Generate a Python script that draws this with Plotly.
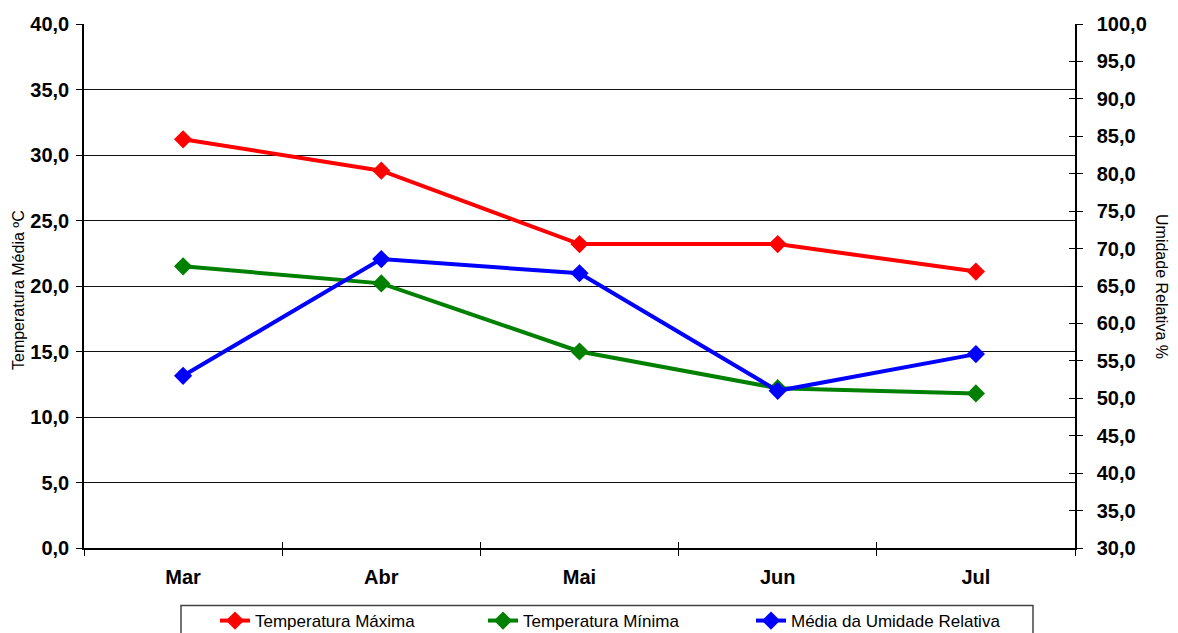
import plotly.graph_objects as go

meses = ["Mar", "Abr", "Mai", "Jun", "Jul"]
temp_max = [31.2, 28.8, 23.2, 23.2, 21.1]
temp_min = [21.5, 20.2, 15.0, 12.2, 11.8]
umidade = [53.0, 68.6, 66.7, 51.0, 55.9]

W, H = 1178, 633
OFF = 8  # page body margin
# plot area in page pixels
PL, PR, PT, PB = 84, 1075, 24, 548
L, T = PL - OFF, PT - OFF
R = W - (PR - OFF)
B = H - (PB - OFF)
pw = PR - PL
ph = PB - PT

def px_x(p):
    return (p - PL) / pw

def px_y(p):
    return (PB - p) / ph

fig = go.Figure()
fig.add_trace(go.Scatter(x=meses, y=temp_max, name="Temperatura Máxima",
                         mode="lines+markers",
                         line=dict(color="#FF0000", width=4),
                         marker=dict(symbol="diamond", size=14, color="#FF0000")))
fig.add_trace(go.Scatter(x=meses, y=temp_min, name="Temperatura Mínima",
                         mode="lines+markers",
                         line=dict(color="#008000", width=4),
                         marker=dict(symbol="diamond", size=14, color="#008000")))
fig.add_trace(go.Scatter(x=meses, y=umidade, name="Média da Umidade Relativa",
                         mode="lines+markers", yaxis="y2",
                         line=dict(color="#0000FF", width=4),
                         marker=dict(symbol="diamond", size=14, color="#0000FF")))

FONT = "Liberation Sans, Arial"
tickfont = dict(family=FONT, size=20, color="black", weight="bold")

fig.update_layout(
    width=W, height=H,
    margin=dict(l=L, r=R, t=T, b=B, pad=0, autoexpand=False),
    paper_bgcolor="white", plot_bgcolor="white",
    separators=",.",
    font=dict(family=FONT, color="black"),
    showlegend=True,
    legend=dict(orientation="h", x=px_x(215), xanchor="left",
                y=px_y(603), yanchor="top",
                font=dict(family=FONT, size=17, color="black"),
                entrywidth=223, entrywidthmode="pixels",
                borderwidth=0, bgcolor="rgba(0,0,0,0)",
                itemwidth=30),
    xaxis=dict(type="category", range=[-0.5, 4.5], tickson="boundaries",
               ticks="outside", ticklen=6, tickcolor="black",
               showline=True, linecolor="black", linewidth=1.5,
               showgrid=False, zeroline=False,
               tickfont=tickfont, ticklabelstandoff=10),
    xaxis2=dict(overlaying="x", anchor="y", side="bottom", range=[-0.5, 4.5],
                tickvals=[0.5, 1.5, 2.5, 3.5], ticks="inside", ticklen=6,
                tickcolor="black", showticklabels=False, showgrid=False,
                showline=False, zeroline=False),
    yaxis=dict(range=[0, 40], dtick=5, tickformat=".1f",
               ticks="outside", ticklen=6, tickcolor="black",
               showline=True, linecolor="black", linewidth=1.5,
               showgrid=True, gridcolor="#111111", gridwidth=1,
               zeroline=False, tickfont=tickfont, ticklabelstandoff=3),
    yaxis2=dict(range=[30, 100], dtick=5, tickformat=".1f", overlaying="y",
                side="right", anchor="x",
                ticks="outside", ticklen=6, tickcolor="black",
                showline=True, linecolor="black", linewidth=1.5,
                showgrid=False, zeroline=False, tickfont=tickfont,
                ticklabelstandoff=10),
    yaxis3=dict(range=[30, 100], dtick=5, overlaying="y", side="right",
                anchor="x", ticks="inside", ticklen=6, tickcolor="black",
                showticklabels=False, showgrid=False, showline=False,
                zeroline=False),
    annotations=[
        dict(text="Temperatura Média ºC", x=px_x(18), y=px_y(290),
             xref="paper", yref="paper", xanchor="center", yanchor="middle",
             showarrow=False, textangle=-90,
             font=dict(family=FONT, size=16, color="black")),
        dict(text="Umidade Relativa %", x=px_x(1162), y=px_y(286),
             xref="paper", yref="paper", xanchor="center", yanchor="middle",
             showarrow=False, textangle=90,
             font=dict(family=FONT, size=16, color="black")),
    ],
    shapes=[
        dict(type="rect", xref="paper", yref="paper",
             x0=px_x(181), x1=px_x(1033), y0=px_y(605.5), y1=px_y(660),
             line=dict(color="#444444", width=1.5), fillcolor="rgba(0,0,0,0)",
             layer="below"),
    ],
)

# helper trace so the overlay tick axes are drawn
fig.add_trace(go.Scatter(x=[None], y=[None], xaxis="x2", yaxis="y3",
                         showlegend=False, hoverinfo="skip"))

fig.write_html("out.html")
